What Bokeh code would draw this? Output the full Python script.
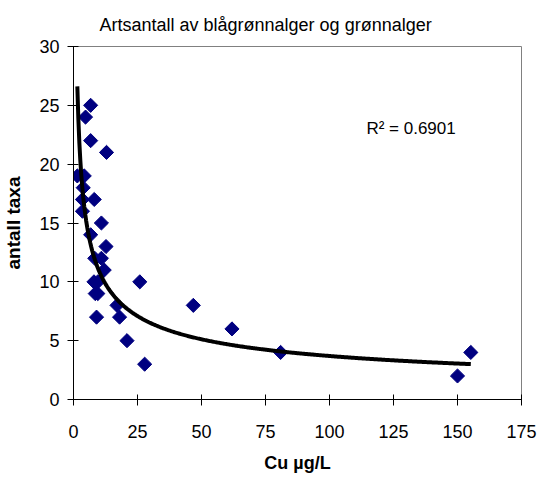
import numpy as np
from bokeh.plotting import figure
from bokeh.models import ColumnDataSource, Label, FixedTicker
from bokeh.embed import file_html
from bokeh.resources import INLINE

title_text = "Artsantall av blågrønnalger og grønnalger"
x_label = "Cu µg/L"
y_label = "antall taxa"
r2_text = "R² = 0.6901"

cu = [6.7, 4.7, 6.7, 12.9, 1.5, 4.2, 3.8, 3.5, 8.1, 3.5, 10.9, 6.7, 12.7, 8.3, 10.9,
      12.0, 8.0, 9.5, 25.9, 8.5, 9.5, 17.0, 46.8, 9.0, 18.0, 61.9, 20.9, 27.8, 80.9,
      150.0, 155.2]
taxa = [25, 24, 22, 21, 19, 19, 18, 17, 17, 16, 15, 14, 13, 12, 12,
        11, 10, 10, 10, 9, 9, 8, 8, 7, 7, 6, 5, 3, 4,
        2, 4]

x_ticks = [0, 25, 50, 75, 100, 125, 150, 175]
y_ticks = [0, 5, 10, 15, 20, 25, 30]

# power trendline y = c * x^e, coefficients
trend_coef = 32.2
trend_exp = -0.47

FONT = "Liberation Sans"

xs = np.linspace(min(cu), max(cu), 400)
ys = trend_coef * xs ** trend_exp

p = figure(width=541, height=479, x_range=(0, 175), y_range=(0, 30),
           output_backend="svg", toolbar_location=None,
           min_border_left=72, min_border_right=20, min_border_top=46, min_border_bottom=80)

p.background_fill_color = "white"
p.border_fill_color = "white"
p.outline_line_color = "#808080"
p.outline_line_width = 1
p.xgrid.visible = False
p.ygrid.visible = False

p.title.text = title_text
p.title.align = "left"
p.title.offset = 26
p.title.text_font = FONT
p.title.text_font_size = "18px"
p.title.text_font_style = "normal"
p.title.text_color = "black"
p.title.standoff = 24

src = ColumnDataSource(data=dict(x=cu, y=taxa))
p.scatter("x", "y", source=src, marker="square", angle=np.pi / 4, size=10,
          fill_color="#000080", line_color="#000080")
p.line(xs, ys, line_color="black", line_width=4)

p.add_layout(Label(x=149.3, y=23.0, text=r2_text, text_font=FONT, text_font_size="17px",
                   text_align="right", text_baseline="middle", text_color="black"))

for ax in (p.xaxis[0], p.yaxis[0]):
    ax.axis_line_color = "black"
    ax.major_tick_line_color = "black"
    ax.major_tick_in = 5
    ax.major_tick_out = 6
    ax.minor_tick_line_color = None
    ax.major_label_text_font = FONT
    ax.major_label_text_font_size = "18px"
    ax.major_label_text_color = "black"
    ax.axis_label_text_font = FONT
    ax.axis_label_text_font_style = "bold"
    ax.axis_label_text_color = "black"

p.xaxis.ticker = FixedTicker(ticks=x_ticks)
p.yaxis.ticker = FixedTicker(ticks=y_ticks)
p.xaxis.axis_label = x_label
p.yaxis.axis_label = y_label
p.xaxis.axis_label_text_font_size = "18px"
p.yaxis.axis_label_text_font_size = "19px"
p.xaxis.major_label_standoff = 19
p.yaxis.major_label_standoff = 8
p.xaxis.axis_label_standoff = 12
p.yaxis.axis_label_standoff = 12

open("out.html", "w").write(file_html(p, INLINE))
